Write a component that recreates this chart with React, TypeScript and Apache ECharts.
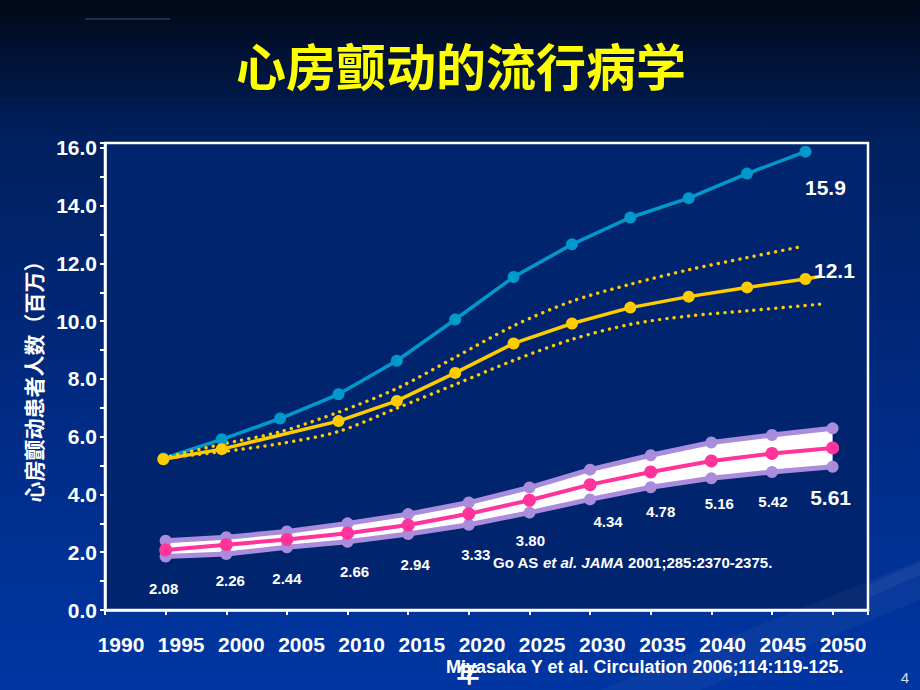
import React, { useEffect, useRef } from "react";
import * as echarts from "echarts";

// ---- data ----
const ATRIA_YEARS = [1995, 2000, 2005, 2010, 2015, 2020, 2025, 2030, 2035, 2040, 2045, 2050];
const ATRIA_CASES = [2.08, 2.26, 2.44, 2.66, 2.94, 3.33, 3.8, 4.34, 4.78, 5.16, 5.42, 5.61];
const ATRIA_UPPER = [2.4, 2.52, 2.72, 3.0, 3.32, 3.72, 4.24, 4.86, 5.36, 5.8, 6.06, 6.29];
const ATRIA_LOWER = [1.85, 1.94, 2.17, 2.36, 2.63, 2.95, 3.37, 3.83, 4.25, 4.56, 4.78, 4.96];

const OLMSTED_YEARS = [1995, 2000, 2005, 2010, 2015, 2020, 2025, 2030, 2035, 2040, 2045, 2050];
const INCREASING_INCIDENCE = [5.25, 5.91, 6.63, 7.47, 8.63, 10.06, 11.53, 12.66, 13.59, 14.26, 15.11, 15.87];

const CONSTANT_YEARS = [1995, 2000, 2010, 2015, 2020, 2025, 2030, 2035, 2040, 2045, 2050, 2051.4];
const CONSTANT_INCIDENCE = [5.22, 5.57, 6.54, 7.24, 8.21, 9.23, 9.92, 10.47, 10.85, 11.17, 11.46, 11.56];

const CI_UPPER_YEARS = [1995, 2000, 2005, 2010, 2015, 2020, 2025, 2030, 2035, 2040, 2045, 2049.5];
const CI_UPPER = [5.26, 5.74, 6.17, 6.85, 7.67, 8.75, 9.84, 10.69, 11.28, 11.78, 12.2, 12.57];
const CI_LOWER_YEARS = [1995, 2000, 2005, 2010, 2015, 2020, 2025, 2030, 2035, 2040, 2045, 2051.8];
const CI_LOWER = [5.26, 5.48, 5.76, 6.18, 6.99, 7.81, 8.64, 9.37, 9.89, 10.18, 10.36, 10.61];

const PROJECTED_2050 = { increasing: 15.9, constant: 12.1 };

const YEAR_TICKS = { min: 1990, max: 2050, step: 5 };
const Y_TICKS = { min: 0, max: 16, step: 1 };

// ---- layout (label nudges, pixels) ----
const CASE_LABEL_NUDGE = [
  [-2, 39], [4, 36], [0, 39], [7, 38], [7, 39], [7, 41],
  [1, 40], [18, 37], [10, 40], [8, 43], [1, 48], [-2, 50],
];

const LATIN = "'Liberation Sans', Arial, Helvetica, sans-serif";
const CJK = "'Noto Sans CJK SC', 'Noto Sans CJK TC', sans-serif";
const PLOT_BG = "#00246E";

const shadow = {
  textShadowColor: "rgba(0,0,0,0.9)",
  textShadowOffsetX: 1.5,
  textShadowOffsetY: 1.5,
  textShadowBlur: 0,
};

export default function App() {
  const ref = useRef<HTMLDivElement>(null);

  useEffect(() => {
    if (!ref.current) return;
    const chart = echarts.init(ref.current, undefined, { renderer: "svg" });

    const purple = "#A98CDC";
    const pink = "#FF3399";
    const blue = "#0099CC";
    const yellow = "#FFCC00";

    const caseData = ATRIA_YEARS.map((yr, i) => {
      const last = i === ATRIA_YEARS.length - 1;
      return {
        value: [yr, ATRIA_CASES[i]],
        label: {
          offset: CASE_LABEL_NUDGE[i],
          fontSize: last ? 21 : 15,
        },
      };
    });

    const option: any = {
      animation: false,
      backgroundColor: {
        type: "linear",
        x: 0,
        y: 0,
        x2: 0,
        y2: 1,
        colorStops: [
          { offset: 0, color: "#010817" },
          { offset: 0.2, color: "#00205E" },
          { offset: 0.6, color: "#002B84" },
          { offset: 1, color: "#0036A3" },
        ],
      },
      grid: [
        {
          left: 105,
          right: 52,
          top: 143,
          bottom: 80,
          show: true,
          backgroundColor: PLOT_BG,
          borderColor: "#FFFFFF",
          borderWidth: 2.5,
        },
        { left: 121, right: 77, top: 620, height: 10, show: false },
      ],
      xAxis: [
        {
          type: "value",
          gridIndex: 0,
          min: YEAR_TICKS.min,
          max: 2052.92,
          interval: YEAR_TICKS.step,
          z: 10,
          axisLine: { show: true, lineStyle: { color: "#fff", width: 2.5 } },
          axisTick: { show: true, length: 5, lineStyle: { color: "#fff", width: 2 } },
          axisLabel: { show: false },
          splitLine: { show: false },
        },
        {
          type: "value",
          gridIndex: 0,
          min: YEAR_TICKS.min,
          max: 2055.36,
          show: false,
        },
        {
          type: "value",
          gridIndex: 1,
          min: YEAR_TICKS.min,
          max: YEAR_TICKS.max,
          interval: YEAR_TICKS.step,
          axisLine: { show: false },
          axisTick: { show: false },
          splitLine: { show: false },
          axisLabel: {
            show: true,
            showMinLabel: true,
            showMaxLabel: true,
            margin: 4,
            color: "#fff",
            fontSize: 21,
            fontWeight: "bold",
            fontFamily: LATIN,
            formatter: (v: number) => String(v),
            ...shadow,
          },
        },
      ],
      yAxis: [
        {
          type: "value",
          gridIndex: 0,
          min: Y_TICKS.min,
          max: 16.17,
          interval: Y_TICKS.step,
          z: 10,
          axisLine: { show: true, lineStyle: { color: "#fff", width: 2.5 } },
          axisTick: { show: true, length: 5, lineStyle: { color: "#fff", width: 2 } },
          splitLine: { show: false },
          axisLabel: {
            margin: 8,
            color: "#fff",
            fontSize: 21,
            fontWeight: "bold",
            fontFamily: LATIN,
            formatter: (v: number) =>
              Number.isInteger(v) && v % 2 === 0 && v <= Y_TICKS.max ? v.toFixed(1) : "",
            ...shadow,
          },
          name: "心房颤动患者人数（百万）",
          nameLocation: "middle",
          nameRotate: 90,
          nameGap: 62,
          nameTextStyle: {
            color: "#fff",
            fontSize: 21,
            fontWeight: "bold",
            fontFamily: CJK,
          },
        },
        { type: "value", gridIndex: 1, show: false },
      ],
      series: [
        // white band between the upper and lower bounds
        {
          type: "custom",
          xAxisIndex: 0,
          yAxisIndex: 0,
          silent: true,
          z: 2,
          data: [[ATRIA_YEARS[0], ATRIA_LOWER[0], ATRIA_UPPER[0]]],
          renderItem: (_params: any, api: any) => {
            const top = ATRIA_YEARS.map((yr, i) => api.coord([yr, ATRIA_UPPER[i]]));
            const bottom = ATRIA_YEARS.map((yr, i) => api.coord([yr, ATRIA_LOWER[i]])).reverse();
            return {
              type: "polygon",
              shape: { points: top.concat(bottom) },
              style: { fill: "#FFFFFF" },
            };
          },
        },
        {
          type: "line",
          xAxisIndex: 0,
          yAxisIndex: 0,
          data: ATRIA_YEARS.map((yr, i) => [yr, ATRIA_UPPER[i]]),
          symbol: "circle",
          symbolSize: 12,
          itemStyle: { color: purple },
          lineStyle: { color: purple, width: 5 },
          z: 3,
        },
        {
          type: "line",
          xAxisIndex: 0,
          yAxisIndex: 0,
          data: ATRIA_YEARS.map((yr, i) => [yr, ATRIA_LOWER[i]]),
          symbol: "circle",
          symbolSize: 12,
          itemStyle: { color: purple },
          lineStyle: { color: purple, width: 5 },
          z: 3,
        },
        {
          type: "line",
          xAxisIndex: 0,
          yAxisIndex: 0,
          data: caseData,
          symbol: "circle",
          symbolSize: 13,
          itemStyle: { color: pink },
          lineStyle: { color: pink, width: 4 },
          z: 4,
          label: {
            show: true,
            position: "inside",
            color: "#fff",
            fontWeight: "bold",
            fontFamily: LATIN,
            formatter: (p: any) => p.value[1].toFixed(2),
            ...shadow,
          },
        },
        {
          type: "line",
          xAxisIndex: 1,
          yAxisIndex: 0,
          data: OLMSTED_YEARS.map((yr, i) => {
            const last = i === OLMSTED_YEARS.length - 1;
            return last
              ? {
                  value: [yr, INCREASING_INCIDENCE[i]],
                  label: {
                    show: true,
                    position: "inside",
                    offset: [20, 36],
                    formatter: PROJECTED_2050.increasing.toFixed(1),
                    color: "#fff",
                    fontSize: 21,
                    fontWeight: "bold",
                    fontFamily: LATIN,
                    ...shadow,
                  },
                }
              : [yr, INCREASING_INCIDENCE[i]];
          }),
          symbol: "circle",
          symbolSize: 12,
          itemStyle: { color: blue },
          lineStyle: { color: blue, width: 3.5 },
          z: 5,
        },
        {
          type: "line",
          xAxisIndex: 1,
          yAxisIndex: 0,
          data: CI_UPPER_YEARS.map((yr, i) => [yr, CI_UPPER[i]]),
          symbol: "none",
          smooth: 0.3,
          lineStyle: { color: yellow, width: 3.4, type: [0.1, 7.2], cap: "round" },
          z: 5,
        },
        {
          type: "line",
          xAxisIndex: 1,
          yAxisIndex: 0,
          data: CI_LOWER_YEARS.map((yr, i) => [yr, CI_LOWER[i]]),
          symbol: "none",
          smooth: 0.3,
          lineStyle: { color: yellow, width: 3.4, type: [0.1, 7.2], cap: "round" },
          z: 5,
        },
        {
          type: "line",
          xAxisIndex: 1,
          yAxisIndex: 0,
          data: CONSTANT_YEARS.map((yr, i) => {
            const tail = i === CONSTANT_YEARS.length - 1;
            const last = i === CONSTANT_YEARS.length - 2;
            if (tail) return { value: [yr, CONSTANT_INCIDENCE[i]], symbolSize: 0 };
            if (last)
              return {
                value: [yr, CONSTANT_INCIDENCE[i]],
                label: {
                  show: true,
                  position: "inside",
                  offset: [29, -9],
                  formatter: PROJECTED_2050.constant.toFixed(1),
                  color: "#fff",
                  fontSize: 21,
                  fontWeight: "bold",
                  fontFamily: LATIN,
                  ...shadow,
                },
              };
            return [yr, CONSTANT_INCIDENCE[i]];
          }),
          symbol: "circle",
          symbolSize: 12,
          itemStyle: { color: yellow },
          lineStyle: { color: yellow, width: 3.5 },
          z: 6,
        },
      ],
      graphic: [
        {
          type: "polygon",
          shape: { points: [[600, 690], [920, 560], [920, 600], [700, 690]] },
          style: { fill: "rgba(255,255,255,0.035)" },
          silent: true,
        },
        {
          type: "polygon",
          shape: { points: [[868, 585], [920, 562], [920, 575], [868, 598]] },
          style: { fill: "rgba(255,255,255,0.05)" },
          silent: true,
        },
        {
          type: "rect",
          shape: { x: 85, y: 18.5, width: 85, height: 1 },
          style: { fill: "rgba(140,150,175,0.5)" },
        },
        {
          type: "text",
          x: 461,
          y: 64,
          style: {
            text: "心房颤动的流行病学",
            fill: "#FFFF00",
            fontSize: 50,
            fontWeight: "bold",
            fontFamily: CJK,
            align: "center",
            verticalAlign: "middle",
            textAlign: "center",
            textVerticalAlign: "middle",
            shadowColor: "rgba(0,0,0,0.85)",
            shadowOffsetX: 2.5,
            shadowOffsetY: 2.5,
            shadowBlur: 0,
          },
          z: 10,
        },
        {
          type: "text",
          x: 493,
          y: 562,
          style: {
            text: "{n|Go AS }{i|et al. JAMA}{n| 2001;285:2370-2375.}",
            fill: "#fff",
            align: "left",
            verticalAlign: "middle",
            textAlign: "left",
            textVerticalAlign: "middle",
            rich: {
              n: { fontSize: 15, fontWeight: "bold", fontFamily: LATIN, fill: "#fff", color: "#fff" },
              i: {
                fontSize: 15,
                fontWeight: "bold",
                fontStyle: "italic",
                fontFamily: LATIN,
                fill: "#fff",
                color: "#fff",
              },
            },
          },
          z: 10,
        },
        {
          type: "text",
          x: 446,
          y: 667,
          style: {
            text: "Miyasaka Y et al. Circulation 2006;114:119-125.",
            fill: "#fff",
            fontSize: 18,
            fontWeight: "bold",
            fontFamily: LATIN,
            align: "left",
            verticalAlign: "middle",
            textAlign: "left",
            textVerticalAlign: "middle",
          },
          z: 10,
        },
        {
          type: "text",
          x: 468,
          y: 672,
          style: {
            text: "年",
            fill: "#fff",
            fontSize: 23,
            fontWeight: "bold",
            fontFamily: CJK,
            align: "center",
            verticalAlign: "middle",
            textAlign: "center",
            textVerticalAlign: "middle",
          },
          z: 11,
        },
        {
          type: "text",
          x: 905,
          y: 677,
          style: {
            text: "4",
            fill: "#D5DCEC",
            fontSize: 15,
            fontFamily: LATIN,
            align: "center",
            verticalAlign: "middle",
            textAlign: "center",
            textVerticalAlign: "middle",
          },
          z: 10,
        },
      ],
    };

    chart.setOption(option);
    return () => chart.dispose();
  }, []);

  return <div ref={ref} style={{ width: 920, height: 690, position: "absolute", left: 0, top: 0 }} />;
}
